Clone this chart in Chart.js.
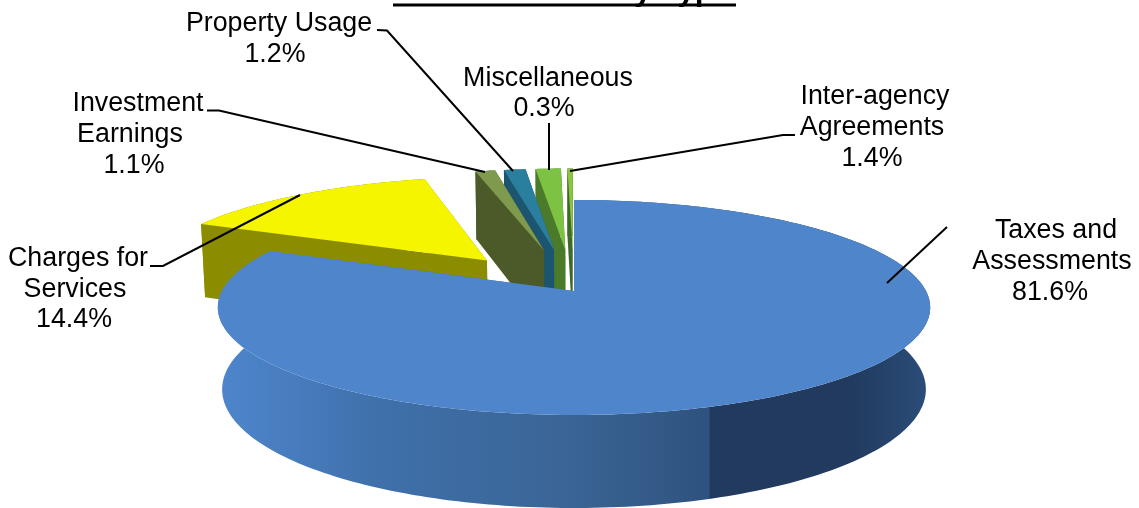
<!DOCTYPE html>
<html>
<head>
<meta charset="utf-8">
<style>html,body{margin:0;padding:0;background:#fff}canvas{display:block}</style>
<script src="https://cdn.jsdelivr.net/npm/chart.js@4"></script>
</head>
<body>
<canvas id="c" width="1139" height="508"></canvas>
<script>
const categories = ["Taxes and Assessments","Charges for Services","Investment Earnings","Property Usage","Inter-agency Agreements","Miscellaneous"];
const values = [81.6,14.4,1.1,1.2,1.4,0.3];
const explode = [0,0.4,0.42,0.42,0.42,0.42];
const topColors = ["#4f85cb","#f5f500","#7f9a4c","#2a7f9e","#7dc242","#8cc63f"];
const wallColors = ["#3a6494","#8c8c00","#4b5a28","#1c5570","#4b7a2a","#3f6a26"];
const drawOrder = [5,4,3,2,1,0];
const titleText = "Total Revenue by Type";
const FONT = '"Liberation Sans", Arial, sans-serif';
const callouts = [
  {lines:["Taxes and","Assessments","81.6%"], xs:[1056,1052,1050], ys:[231,262,293], path:[[947,227],[887,283]]},
  {lines:["Charges for","Services","14.4%"], xs:[78,75,74], ys:[259,290,320], path:[[150,266],[163,266],[300,195]]},
  {lines:["Investment","Earnings","1.1%"], xs:[138,130,134], ys:[104,135,166], path:[[207,110.5],[219,110.5],[485,172]]},
  {lines:["Property Usage","1.2%"], xs:[279,275], ys:[24,55], path:[[377,30],[387,30.5],[513,171]]},
  {lines:["Miscellaneous","0.3%"], xs:[548,544], ys:[79,109], path:[[549,123],[549,170]]},
  {lines:["Inter-agency","Agreements","1.4%"], xs:[875,872,872], ys:[97,128,159], path:[[795,135],[783,135],[570,171]]}
];
const view = {x0:574,y0:291,B:352,A:105,D:81.4,k:0.153,m:0.012};

function project(s,t,z){
  const w = 1 + view.k*t + view.m*z;
  return [view.x0 + view.B*s/w, view.y0 + (-view.A*t + view.D*z)/w];
}
function slicePoints(a0,a1,e,z){
  const mid=(a0+a1)/2, ox=e*Math.sin(mid), oy=e*Math.cos(mid);
  const pts=[project(ox,oy,z)];
  const n=Math.max(4,Math.ceil((a1-a0)/0.02));
  for(let i=0;i<=n;i++){
    const a=a0+(a1-a0)*i/n;
    pts.push(project(ox+Math.sin(a),oy+Math.cos(a),z));
  }
  return pts;
}
function fillPoly(ctx,pts,color){
  ctx.beginPath();
  pts.forEach((p,i)=> i?ctx.lineTo(p[0],p[1]):ctx.moveTo(p[0],p[1]));
  ctx.closePath();
  ctx.fillStyle=color; ctx.fill();
}
function sideGradient(ctx){
  const x=[218,262,380,575,709,710,850,925,930];
  const c=["#4f85cb","#4a80c4","#3f70aa","#3a6494","#2e527f","#213a5e","#213a5e","#2a4c78","#2a4c78"];
  const g=ctx.createLinearGradient(218,0,930,0);
  x.forEach((v,i)=>g.addColorStop((v-218)/712,c[i]));
  return g;
}
const pie3d = {
  id:'pie3d',
  beforeDatasetDraw(chart,args){
    const ctx=chart.ctx, arcs=chart.getDatasetMeta(args.index).data;
    ctx.save();
    drawOrder.forEach(i=>{
      const arc=arcs[i];
      const a0=arc.startAngle+Math.PI/2, a1=arc.endAngle+Math.PI/2;
      const e=arc.options.offset/100;
      const up=slicePoints(a0,a1,e,0), lo=slicePoints(a0,a1,e,1);
      const wall = i===0 ? sideGradient(ctx) : wallColors[i];
      const n=up.length-1;
      fillPoly(ctx,[up[0],up[1],lo[1],lo[0]],wall);
      fillPoly(ctx,[up[0],up[n],lo[n],lo[0]],wall);
      fillPoly(ctx,up.slice(1).concat(lo.slice(1).reverse()),wall);
      fillPoly(ctx,up,topColors[i]);
    });
    ctx.restore();
    return false;
  },
  afterDraw(chart){
    const ctx=chart.ctx;
    ctx.save();
    ctx.fillStyle="#000"; ctx.strokeStyle="#000";
    ctx.textAlign="center"; ctx.textBaseline="middle";
    ctx.font="26.8px "+FONT;
    callouts.forEach(c=>{
      c.lines.forEach((l,i)=>ctx.fillText(l,c.xs[i],c.ys[i]));
      ctx.lineWidth=2; ctx.beginPath();
      c.path.forEach((p,i)=> i?ctx.lineTo(p[0],p[1]):ctx.moveTo(p[0],p[1]));
      ctx.stroke();
    });
    ctx.textBaseline="alphabetic"; ctx.textAlign="left";
    ctx.font="bold 31.5px "+FONT;
    ctx.fillText(titleText,393,0);
    ctx.fillRect(393,3.5,343,3);
    ctx.restore();
  }
};
new Chart(document.getElementById('c'),{
  type:'pie',
  data:{labels:categories,datasets:[{data:values,backgroundColor:topColors,borderWidth:0,offset:explode.map(e=>e*100)}]},
  options:{responsive:false,animation:false,devicePixelRatio:1,
    plugins:{legend:{display:false},tooltip:{enabled:false}}},
  plugins:[pie3d]
});
</script>
</body>
</html>
